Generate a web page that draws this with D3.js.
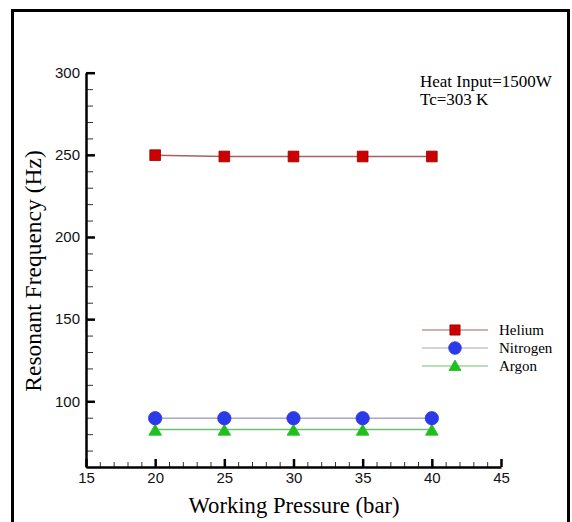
<!DOCTYPE html>
<html>
<head>
<meta charset="utf-8">
<script src="https://cdn.jsdelivr.net/npm/d3@7"></script>
<style>
  body { margin: 0; background: #fff; }
  svg { display: block; }
  .tick text { font-family: "Liberation Sans", Arial, sans-serif; font-size: 15px; fill: #111; }
  .serif { font-family: "Liberation Serif", "Times New Roman", serif; fill: #000; }
</style>
</head>
<body>
<svg width="572" height="522"></svg>
<script>
// data
var pressure = [20, 25, 30, 35, 40];
var helium = [249.8, 249.0, 249.0, 249.0, 249.0];
var nitrogen = [89.7, 89.7, 89.7, 89.7, 89.7];
var argon = [82.8, 82.8, 82.8, 82.8, 82.8];
var seriesNames = ["Helium", "Nitrogen", "Argon"];
var xTicks = [15, 20, 25, 30, 35, 40, 45];
var yTicks = [100, 150, 200, 250, 300];

var svg = d3.select("svg");

// outer frame
svg.append("rect")
    .attr("x", 12.5).attr("y", 10.5)
    .attr("width", 556).attr("height", 525)
    .attr("fill", "none").attr("stroke", "#000").attr("stroke-width", 3);

var x = d3.scaleLinear().domain([15, 45]).range([86, 501]);
var y = d3.scaleLinear().domain([60, 300]).range([467, 72.7]);

// minor ticks first, then the main axes on top
svg.append("g")
    .attr("transform", "translate(0," + y(60) + ")")
    .call(d3.axisBottom(x).tickValues(d3.range(15, 46, 1)).tickSize(-5).tickFormat(""))
    .call(function (g) { g.select(".domain").remove(); g.selectAll("line").attr("stroke", "#333").attr("stroke-width", 1); });

svg.append("g")
    .attr("transform", "translate(" + x(15) + ",0)")
    .call(d3.axisLeft(y).tickValues(d3.range(60, 301, 10)).tickSize(-7).tickFormat(""))
    .call(function (g) { g.select(".domain").remove(); g.selectAll("line").attr("stroke", "#333").attr("stroke-width", 1); });

var xAxis = svg.append("g")
    .attr("transform", "translate(0," + y(60) + ")")
    .call(d3.axisBottom(x).tickValues(xTicks).tickSizeInner(-8).tickSizeOuter(0).tickPadding(5));
xAxis.select(".domain").attr("stroke-width", 2.5);
xAxis.selectAll(".tick line").attr("stroke-width", 2.5);

var yAxis = svg.append("g")
    .attr("transform", "translate(" + x(15) + ",0)")
    .call(d3.axisLeft(y).tickValues(yTicks).tickSizeInner(-9).tickSizeOuter(0).tickPadding(6));
yAxis.select(".domain").attr("stroke-width", 2.5);
yAxis.selectAll(".tick line").attr("stroke-width", 2.5);

// axis titles
svg.append("text").attr("class", "serif")
    .attr("x", 294).attr("y", 513)
    .attr("text-anchor", "middle").attr("font-size", 22.7)
    .text("Working Pressure (bar)");

svg.append("text").attr("class", "serif")
    .attr("transform", "translate(41,271) rotate(-90)")
    .attr("text-anchor", "middle").attr("font-size", 23.5)
    .text("Resonant Frequency (Hz)");

// annotation
svg.append("text").attr("class", "serif")
    .attr("x", 420).attr("y", 87).attr("font-size", 17)
    .text("Heat Input=1500W");
svg.append("text").attr("class", "serif")
    .attr("x", 420).attr("y", 105).attr("font-size", 17)
    .text("Tc=303 K");

var styles = [
    { line: "#a86060", fill: "#cc0000", stroke: "#990000", symbol: d3.symbolSquare, size: 115 },
    { line: "#a8a8c0", fill: "#2b3ae8", stroke: "#2b3ae8", symbol: d3.symbolCircle, size: 140 },
    { line: "#70c070", fill: "#1fbf1f", stroke: "#1fbf1f", symbol: d3.symbolTriangle, size: 70 }
];
var values = [helium, nitrogen, argon];

var line = d3.line()
    .x(function (d) { return x(d[0]); })
    .y(function (d) { return y(d[1]); });

// draw argon first so nitrogen circles sit on top of the triangles
[2, 1, 0].forEach(function (i) {
    var pts = pressure.map(function (p, j) { return [p, values[i][j]]; });
    var st = styles[i];
    svg.append("path")
        .datum(pts)
        .attr("d", line)
        .attr("fill", "none")
        .attr("stroke", st.line)
        .attr("stroke-width", 1.5);
    svg.append("g").selectAll("path")
        .data(pts).enter()
        .append("path")
        .attr("d", d3.symbol().type(st.symbol).size(st.size))
        .attr("transform", function (d) {
            var dy = st.symbol === d3.symbolTriangle ? 2 : 0;
            return "translate(" + x(d[0]) + "," + (y(d[1]) + dy) + ")";
        })
        .attr("fill", st.fill)
        .attr("stroke", st.stroke)
        .attr("stroke-width", 0.8);
});

// legend
var legend = svg.append("g");
seriesNames.forEach(function (name, i) {
    var st = styles[i];
    var ly = 330 + i * 18;
    legend.append("line")
        .attr("x1", 422).attr("x2", 488).attr("y1", ly).attr("y2", ly)
        .attr("stroke", st.line).attr("stroke-width", 1.2);
    legend.append("path")
        .attr("d", d3.symbol().type(st.symbol).size(st.size * 0.9))
        .attr("transform", "translate(455," + (ly + (st.symbol === d3.symbolTriangle ? 1 : 0)) + ")")
        .attr("fill", st.fill).attr("stroke", st.stroke).attr("stroke-width", 0.8);
    legend.append("text").attr("class", "serif")
        .attr("x", 499).attr("y", ly + 5).attr("font-size", 15)
        .text(name);
});
</script>
</body>
</html>
